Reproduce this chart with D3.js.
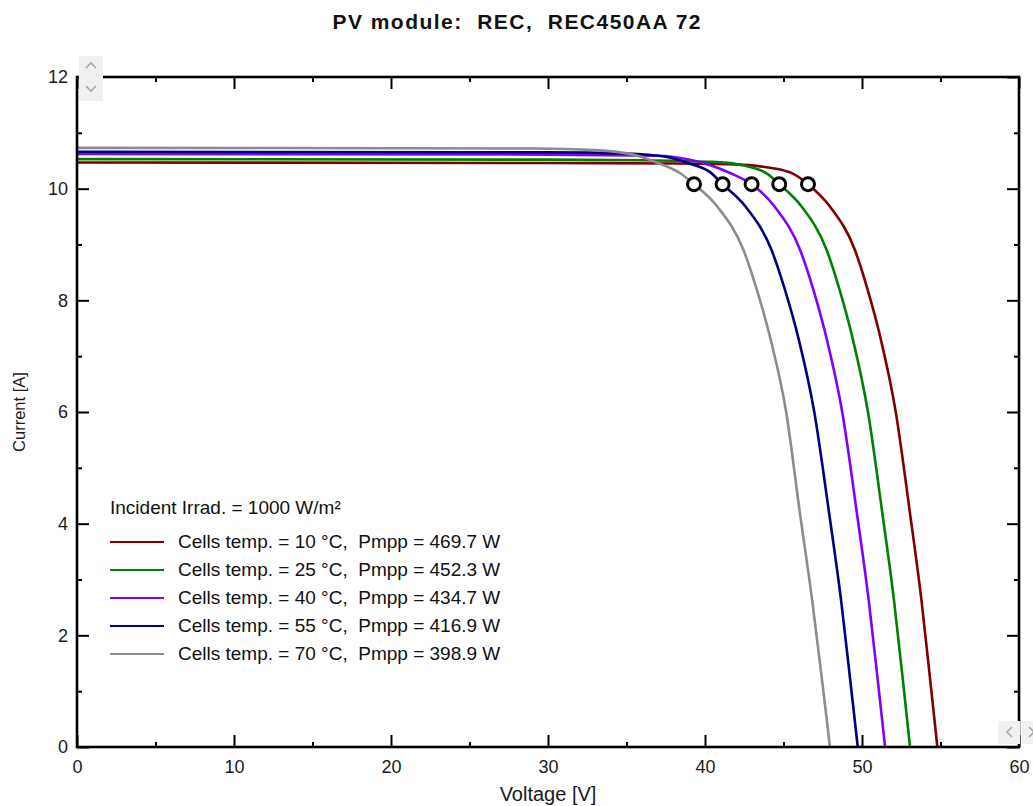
<!DOCTYPE html>
<html>
<head>
<meta charset="utf-8">
<script src="https://cdn.jsdelivr.net/npm/d3@7"></script>
<style>
  body { margin: 0; background: #fff; }
  #graf { width: 1033px; height: 806px; }
  text { font-family: "Liberation Sans", Arial, sans-serif; white-space: pre; }
</style>
</head>
<body>
<div id="graf"></div>
<script>
// curves: voltage [V] / current [A]
const temps = [10, 25, 40, 55, 70]
const pmpp = ["469.7", "452.3", "434.7", "416.9", "398.9"]
const colores = ["#800000", "#008000", "#8000ff", "#000080", "#8c8c8c"]

const v10 = [0, 30, 38, 42.2, 44.0, 45.6, 46.56, 47.96, 49.55, 50.35, 51.2, 52.15, 53.05, 53.8, 54.42, 54.8]
const i10 = [10.47, 10.46, 10.45, 10.43, 10.38, 10.27, 10.08, 9.68, 8.9, 8.2, 7.3, 6.0, 4.2, 2.6, 1.0, 0]
const v25 = [0, 30, 36, 40.5, 42.2, 43.1, 43.95, 44.73, 46.15, 47.75, 48.56, 49.42, 50.38, 51.29, 52.05, 52.68, 53.06]
const i25 = [10.53, 10.52, 10.51, 10.48, 10.43, 10.37, 10.27, 10.08, 9.68, 8.9, 8.2, 7.3, 6.0, 4.2, 2.6, 1.0, 0]
const v40 = [0, 30, 37.1, 38.8, 40.1, 41.6, 42.97, 44.43, 46.06, 46.89, 47.76, 48.74, 49.67, 50.44, 51.08, 51.47]
const i40 = [10.62, 10.61, 10.59, 10.53, 10.44, 10.28, 10.08, 9.68, 8.9, 8.2, 7.3, 6.0, 4.2, 2.6, 1.0, 0]
const v55 = [0, 30, 35, 37.5, 39.0, 40.3, 41.12, 42.58, 44.24, 45.08, 45.97, 46.96, 47.9, 48.68, 49.33, 49.73]
const i55 = [10.66, 10.65, 10.63, 10.57, 10.45, 10.3, 10.08, 9.68, 8.9, 8.2, 7.3, 6.0, 4.2, 2.6, 1.0, 0]
const v70 = [0, 29, 33, 35.4, 36.9, 38.4, 39.3, 40.78, 42.45, 43.29, 44.18, 45.17, 46.04, 46.84, 47.54, 47.96]
const i70 = [10.73, 10.72, 10.69, 10.61, 10.47, 10.28, 10.08, 9.68, 8.9, 8.2, 7.3, 6.0, 4.2, 2.6, 1.0, 0]

// maximum power points
const mppV = [46.56, 44.73, 42.97, 41.12, 39.3]
const mppI = [10.08, 10.08, 10.08, 10.08, 10.08]

const xTicks = [0, 10, 20, 30, 40, 50, 60]
const yTicks = [0, 2, 4, 6, 8, 10, 12]

const graf = d3.select("#graf")

const margins = {
  top: 77,
  right: 14,
  bottom: 59,
  left: 77,
}
const anchoTotal = 1033
const altoTotal = 806
const ancho = anchoTotal - margins.right - margins.left
const alto = altoTotal - margins.top - margins.bottom

const svg = graf
  .append("svg")
  .attr("width", anchoTotal)
  .attr("height", altoTotal)

const g = svg
  .append("g")
  .attr("transform", `translate(${margins.left}, ${margins.top})`)

const x = d3.scaleLinear().domain([0, 60]).range([0, ancho])
const y = d3.scaleLinear().domain([0, 12]).range([alto, 0])

// title
svg.append("text")
  .attr("x", anchoTotal / 2)
  .attr("y", 29)
  .attr("text-anchor", "middle")
  .attr("font-size", 21)
  .attr("font-weight", "bold")
  .attr("fill", "#111")
  .attr("textLength", 368)
  .attr("lengthAdjust", "spacing")
  .text("PV module:  REC,  REC450AA 72")

// curves
const curvas = [
  { v: v10, i: i10 },
  { v: v25, i: i25 },
  { v: v40, i: i40 },
  { v: v55, i: i55 },
  { v: v70, i: i70 },
]

const linea = d3.line()
  .x((d) => x(d[0]))
  .y((d) => y(d[1]))
  .curve(d3.curveMonotoneX)

g.selectAll("path.curva")
  .data(curvas)
  .enter()
  .append("path")
  .attr("class", "curva")
  .attr("fill", "none")
  .attr("stroke", (d, k) => colores[k])
  .attr("stroke-width", 2.6)
  .attr("d", (d) => linea(d.v.map((v, k) => [v, d.i[k]])))

g.selectAll("circle.mpp")
  .data(mppV)
  .enter()
  .append("circle")
  .attr("class", "mpp")
  .attr("cx", (d) => x(d))
  .attr("cy", (d, k) => y(mppI[k]))
  .attr("r", 6.5)
  .attr("fill", "#fff")
  .attr("stroke", "#000")
  .attr("stroke-width", 3)

// axes (ticks inside, on all four sides)
const estiloEje = (sel) => {
  sel.select(".domain").remove()
  sel.selectAll("line").attr("stroke", "#000").attr("stroke-width", 2)
  sel.selectAll("text")
    .attr("font-size", 18)
    .attr("fill", "#1a1a1a")
    .attr("font-family", '"Liberation Sans", Arial, sans-serif')
}

const xMenor = d3.range(5, 60, 10)
const yMenor = d3.range(1, 12, 2)

g.append("g")
  .attr("transform", `translate(0, ${alto})`)
  .call(d3.axisBottom(x).tickValues(xTicks).tickSize(-12).tickPadding(13).tickFormat(d3.format("d")))
  .call(estiloEje)
g.append("g")
  .attr("transform", `translate(0, ${alto})`)
  .call(d3.axisBottom(x).tickValues(xMenor).tickSize(-5).tickFormat(""))
  .call(estiloEje)
g.append("g")
  .call(d3.axisTop(x).tickValues(xTicks).tickSize(-12).tickFormat(""))
  .call(estiloEje)
g.append("g")
  .call(d3.axisTop(x).tickValues(xMenor).tickSize(-5).tickFormat(""))
  .call(estiloEje)
g.append("g")
  .call(d3.axisLeft(y).tickValues(yTicks).tickSize(-12).tickPadding(9).tickFormat(d3.format("d")))
  .call(estiloEje)
g.append("g")
  .call(d3.axisLeft(y).tickValues(yMenor).tickSize(-5).tickFormat(""))
  .call(estiloEje)
g.append("g")
  .attr("transform", `translate(${ancho}, 0)`)
  .call(d3.axisRight(y).tickValues(yTicks).tickSize(-12).tickFormat(""))
  .call(estiloEje)
g.append("g")
  .attr("transform", `translate(${ancho}, 0)`)
  .call(d3.axisRight(y).tickValues(yMenor).tickSize(-5).tickFormat(""))
  .call(estiloEje)

// frame
g.append("rect")
  .attr("x", 0)
  .attr("y", 0)
  .attr("width", ancho)
  .attr("height", alto)
  .attr("fill", "none")
  .attr("stroke", "#000")
  .attr("stroke-width", 2.6)

// axis titles
svg.append("text")
  .attr("x", margins.left + ancho / 2)
  .attr("y", 801)
  .attr("text-anchor", "middle")
  .attr("font-size", 20)
  .attr("fill", "#1a1a1a")
  .text("Voltage [V]")

svg.append("text")
  .attr("transform", `translate(25, ${margins.top + alto / 2}) rotate(-90)`)
  .attr("text-anchor", "middle")
  .attr("font-size", 16.5)
  .attr("font-family", '"Liberation Serif", "Times New Roman", serif')
  .attr("fill", "#1a1a1a")
  .text("Current [A]")

// legend
const leyenda = g.append("g").attr("transform", "translate(33, 437)")

leyenda.append("text")
  .attr("x", 0)
  .attr("y", 0)
  .attr("font-size", 19)
  .attr("fill", "#111")
  .text("Incident Irrad. = 1000 W/m²")

const filas = leyenda.selectAll("g.fila")
  .data(temps)
  .enter()
  .append("g")
  .attr("class", "fila")
  .attr("transform", (d, k) => `translate(0, ${34 + k * 28})`)

filas.append("line")
  .attr("x1", 0)
  .attr("x2", 54)
  .attr("y1", -6)
  .attr("y2", -6)
  .attr("stroke", (d, k) => colores[k])
  .attr("stroke-width", 1.8)

filas.append("text")
  .attr("x", 68)
  .attr("y", 0)
  .attr("font-size", 19)
  .attr("fill", "#111")
  .text((d, k) => `Cells temp. = ${d} °C,  Pmpp = ${pmpp[k]} W`)

// little scroll buttons of the original window
const botones = svg.append("g").attr("fill", "#f0f0f0")
botones.append("rect").attr("x", margins.left + 2).attr("y", 56).attr("width", 24).attr("height", 45)
botones.append("rect").attr("x", margins.left + ancho - 21).attr("y", 721).attr("width", 22).attr("height", 23)
botones.append("rect").attr("x", margins.left + ancho + 3).attr("y", 721).attr("width", 20).attr("height", 23)

const flecha = (d) => svg.append("path")
  .attr("d", d)
  .attr("fill", "none")
  .attr("stroke", "#a8a8a8")
  .attr("stroke-width", 1.6)
flecha(`M${margins.left + 9},68 l5,-5 l5,5`)
flecha(`M${margins.left + 9},86 l5,5 l5,-5`)
flecha(`M${margins.left + ancho - 7},727 l-5,5 l5,5`)
flecha(`M${margins.left + ancho + 10},727 l5,5 l-5,5`)
</script>
</body>
</html>
